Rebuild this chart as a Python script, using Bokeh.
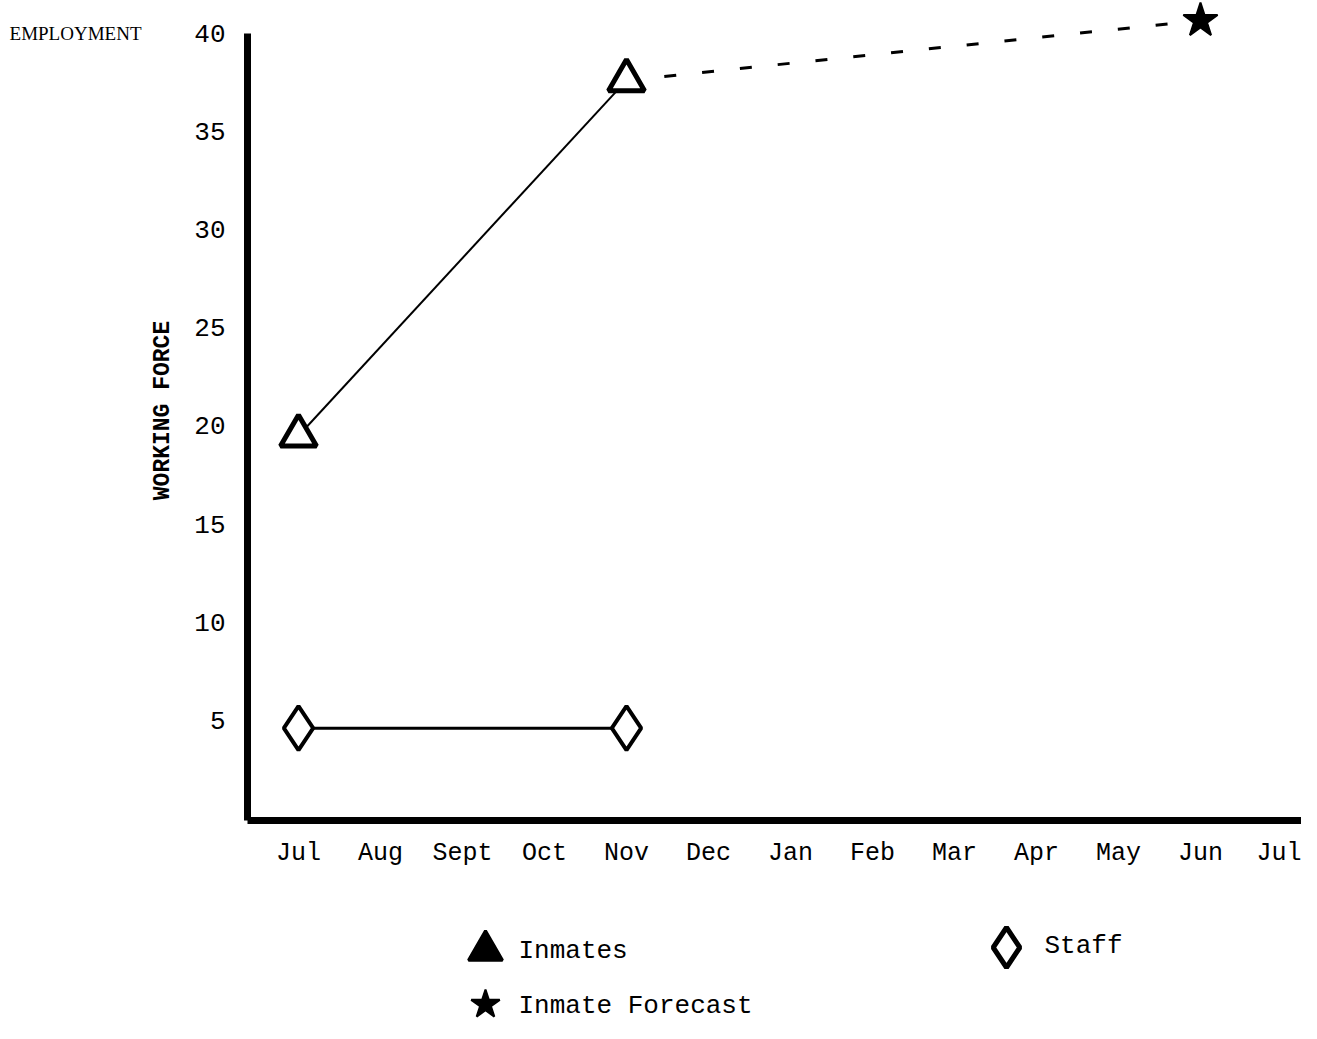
from bokeh.plotting import figure
from bokeh.models import FixedTicker, Range1d, LinearAxis
from bokeh.layouts import column
from bokeh.core.properties import value
from bokeh.embed import file_html
from bokeh.resources import INLINE

# ---- data ----
months = ["Jul", "Aug", "Sept", "Oct", "Nov", "Dec", "Jan", "Feb", "Mar", "Apr", "May", "Jun", "Jul"]
month_pos = list(range(len(months)))
y_ticks = [5, 10, 15, 20, 25, 30, 35, 40]

inmate_x = [0, 4]          # Jul, Nov
inmate_y = [19.5, 37.6]
forecast_x = [4, 11]       # Nov -> Jun
forecast_y = [37.6, 40.65]
staff_x = [0, 4]
staff_y = [4.6, 4.6]

key_labels = ["Inmates", "Staff", "Inmate Forecast"]

MONO = "Liberation Mono"
SERIF = "Liberation Serif"

# ---- layout (pixels) ----
W = 1301
H_MAIN = 880
H_LEG = 143
FRAME_LEFT = 247
FRAME_BOTTOM = 820

p = figure(width=W, height=H_MAIN, output_backend="svg", toolbar_location=None,
           x_range=Range1d(-0.622, 12.232), y_range=Range1d(-0.102, 41.67),
           min_border_left=FRAME_LEFT, min_border_top=0, min_border_right=0,
           min_border_bottom=H_MAIN - FRAME_BOTTOM)
p.outline_line_color = None
p.xgrid.grid_line_color = None
p.ygrid.grid_line_color = None

# lines
p.line(inmate_x, inmate_y, line_color="black", line_width=2)
p.line(forecast_x, forecast_y, line_color="black", line_width=3, line_dash="12 26")
p.line(staff_x, staff_y, line_color="black", line_width=3)

# markers
p.scatter(inmate_x, inmate_y, marker="triangle", size=36,
          fill_color="white", line_color="black", line_width=5)
p.scatter(staff_x, staff_y, marker="diamond", size=44,
          fill_color="white", line_color="black", line_width=4)
p.scatter(forecast_x[-1:], forecast_y[-1:], marker="star", size=36,
          fill_color="black", line_color="black", line_width=2)

# x axis
xa = p.xaxis[0]
xa.ticker = FixedTicker(ticks=month_pos)
xa.major_label_overrides = {i: m for i, m in zip(month_pos, months)}
xa.axis_line_width = 7
xa.axis_line_color = "black"
xa.major_tick_line_color = None
xa.minor_tick_line_color = None
xa.major_label_text_font = MONO
xa.major_label_text_font_size = "25px"
xa.major_label_text_color = "black"
xa.major_label_standoff = 12

# y axis
ya = p.yaxis[0]
ya.ticker = FixedTicker(ticks=y_ticks)
ya.bounds = (-0.3, 40)
ya.axis_line_width = 7
ya.axis_line_color = "black"
ya.major_tick_line_color = None
ya.minor_tick_line_color = None
ya.major_label_text_font = MONO
ya.major_label_text_font_size = "26px"
ya.major_label_text_color = "black"
ya.major_label_standoff = 16
ya.axis_label = "WORKING FORCE"
ya.axis_label_text_font = MONO
ya.axis_label_text_font_size = "23px"
ya.axis_label_text_font_style = "bold"
ya.axis_label_text_color = "black"
ya.axis_label_standoff = 15

# "EMPLOYMENT" heading, drawn as the label of an outer left axis at the top value
emp_axis = LinearAxis(ticker=FixedTicker(ticks=[40]),
                      major_label_overrides={40: "EMPLOYMENT"},
                      axis_line_color=None, major_tick_line_color=None,
                      minor_tick_line_color=None, major_label_standoff=0,
                      major_label_text_font=SERIF, major_label_text_font_size="19px",
                      major_label_text_color="black")
p.add_layout(emp_axis, "left")

# ---- key strip below the chart (x and y in page pixels) ----
q = figure(width=W, height=H_LEG, output_backend="svg", toolbar_location=None,
           x_range=Range1d(FRAME_LEFT, W), y_range=Range1d(H_MAIN + H_LEG, H_MAIN),
           x_axis_type=None, y_axis_type=None,
           min_border_left=FRAME_LEFT, min_border_right=0, min_border_top=0, min_border_bottom=0)
q.outline_line_color = None

key_marker_x = [485, 1006, 485]
key_marker_y = [950, 947, 1004]
key_text_x = [518, 1044, 518]
key_text_y = [950, 945, 1005]

q.scatter(key_marker_x[0:1], key_marker_y[0:1], marker="triangle", size=34,
          fill_color="black", line_color="black", line_width=3)
q.scatter(key_marker_x[1:2], key_marker_y[1:2], marker="diamond", size=40,
          fill_color="white", line_color="black", line_width=5)
q.scatter(key_marker_x[2:3], key_marker_y[2:3], marker="star", size=30,
          fill_color="black", line_color="black", line_width=2)
q.text(key_text_x, key_text_y, text=key_labels, text_font=value(MONO),
       text_font_size=value("26px"), text_baseline="middle", text_align="left",
       text_color="black")

layout = column(p, q, spacing=0)
open("out.html", "w").write(file_html(layout, INLINE))
